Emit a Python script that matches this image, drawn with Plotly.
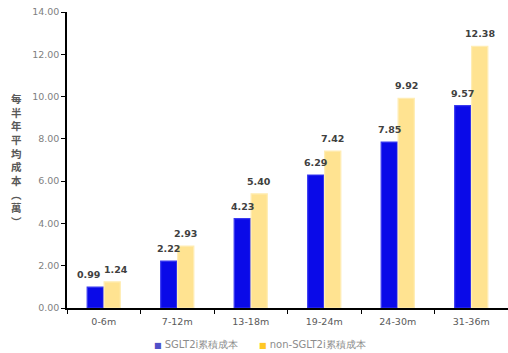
import plotly.graph_objects as go

# Half-year periods and cumulative cost (in 萬) for each group
periods = ["0-6m", "7-12m", "13-18m", "19-24m", "24-30m", "31-36m"]
sglt2i_cost = [0.99, 2.22, 4.23, 6.29, 7.85, 9.57]
non_sglt2i_cost = [1.24, 2.93, 5.40, 7.42, 9.92, 12.38]
y_ticks = [0, 2, 4, 6, 8, 10, 12, 14]

series_names = ["SGLT2i累積成本", "non-SGLT2i累積成本"]
fill_colors = ["#0A0AE8", "#FFE391"]
edge_colors = ["#3A3AF0", "#FFEDB5"]
key_colors = ["#5050C8", "#FFC826"]

W, H = 508, 353
M = dict(l=67, r=0, t=12, b=45)
plot_w = W - M["l"] - M["r"]
BARGAP = 0.54
bar_half = plot_w / len(periods) * (1 - BARGAP) / 4   # distance from category centre to bar centre

fig = go.Figure()
for name, values, fill, edge in zip(series_names, [sglt2i_cost, non_sglt2i_cost],
                                    fill_colors, edge_colors):
    fig.add_trace(go.Bar(
        x=periods, y=values, name=name, showlegend=False,
        marker=dict(color=fill, line=dict(color=edge, width=1.2)),
    ))

# Value labels above each bar; the first pair is spread apart so they don't collide
label_font = dict(family="DejaVu Sans", size=9.5, color="#404040", weight="bold")
for s, values in enumerate([sglt2i_cost, non_sglt2i_cost]):
    side = -1 if s == 0 else 1
    for i, (p, v) in enumerate(zip(periods, values)):
        nudge = (-6.5 if s == 0 else 4) if i == 0 else 0
        fig.add_annotation(
            x=p, y=v, xref="x", yref="y", text=f"{v:.2f}", showarrow=False,
            xanchor="center", yanchor="bottom",
            xshift=side * bar_half + nudge, yshift=5, font=label_font,
        )

# Vertical axis title, stacked one character per line
title_chars = ["每", "半", "年", "平", "均", "成", "本", "︵", "萬", "︶"]
fig.add_annotation(
    text="<br>".join(title_chars), xref="paper", yref="paper",
    x=-0.114, y=0.5, xanchor="center", yanchor="middle", showarrow=False,
    font=dict(family="DejaVu Sans, Noto Sans CJK TC", size=10.5, color="#595959",
              weight="bold"),
    align="center",
)

# Legend keys along the bottom
legend_x = [152, 257]
for name, color, px in zip(series_names, key_colors, legend_x):
    fig.add_annotation(
        text=f'<span style="color:{color};font-size:8px">■</span> {name}',
        xref="paper", yref="paper", x=(px - M["l"]) / plot_w, y=0,
        yshift=-(344 - (H - M["b"])), xanchor="left", yanchor="middle",
        showarrow=False,
        font=dict(family="DejaVu Sans", size=10, color="#8C8C8C"),
    )

fig.update_layout(
    width=W, height=H, margin=M,
    paper_bgcolor="white", plot_bgcolor="white",
    barmode="group", bargap=BARGAP, bargroupgap=0.04,
    showlegend=False,
    font=dict(family="DejaVu Sans", color="#595959"),
)
fig.update_xaxes(
    showline=True, linecolor="#000000", linewidth=1.5,
    ticks="outside", ticklen=4, tickcolor="#000000",
    tickson="boundaries", showgrid=False, ticklabelstandoff=4,
    tickfont=dict(family="DejaVu Sans", size=9.5, color="#595959"),
)
fig.update_yaxes(
    range=[0, 14], tickvals=y_ticks, ticktext=[f"{v:.2f}" for v in y_ticks],
    showline=True, linecolor="#000000", linewidth=1.5,
    ticks="outside", ticklen=4, tickcolor="#000000",
    showgrid=False, zeroline=False,
    tickfont=dict(family="DejaVu Sans", size=9.5, color="#7F7F7F"),
)

fig.write_html("out.html")
